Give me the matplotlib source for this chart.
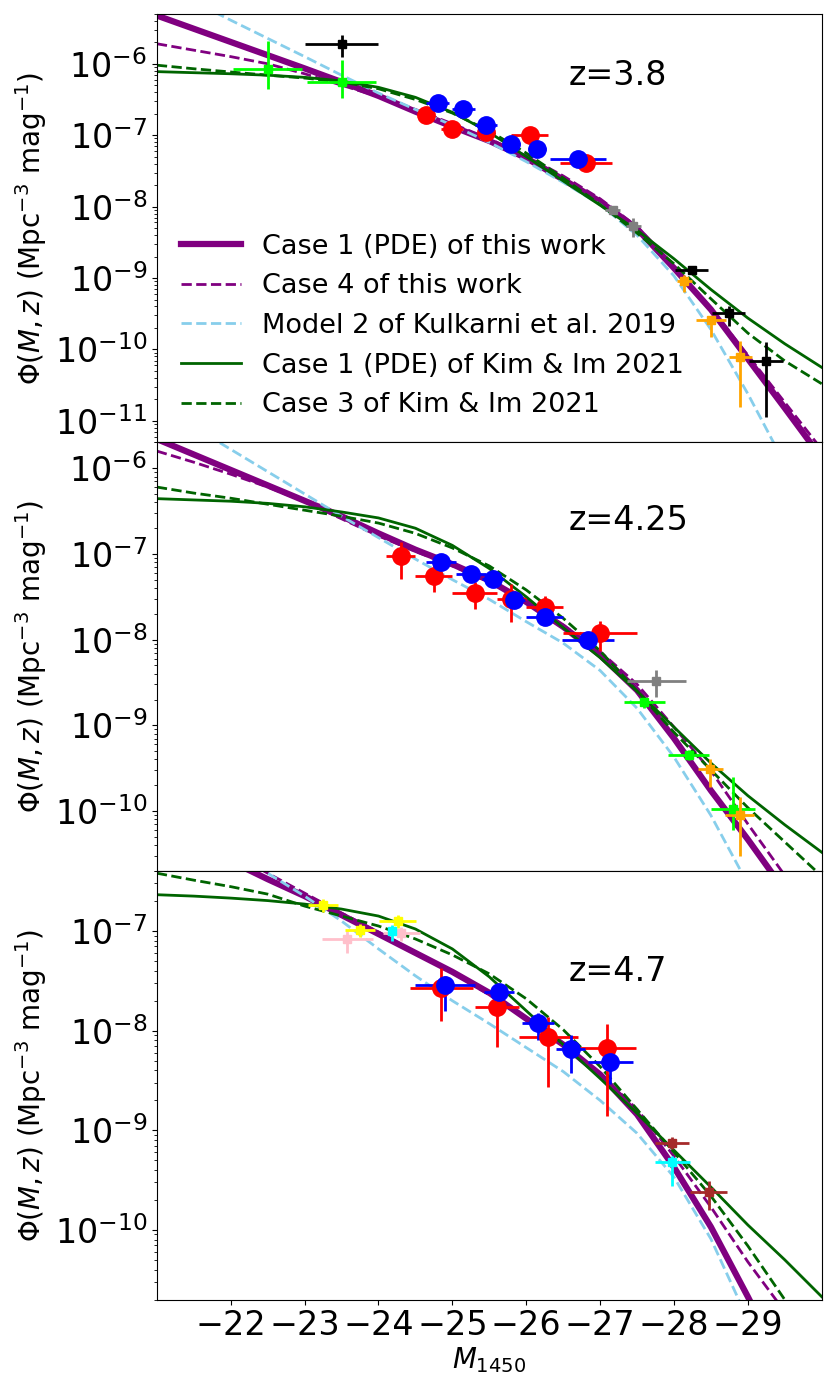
import matplotlib
matplotlib.use("Agg")
import matplotlib.pyplot as plt
import numpy as np

mag_grid = [-21.0, -21.5, -22.0, -22.5, -23.0, -23.5, -24.0, -24.5, -25.0, -25.5,
            -26.0, -26.5, -27.0, -27.5, -28.0, -28.5, -29.0, -29.5, -30.0]

# log10 Phi of each model, per redshift panel
z38_case1 = [-5.325, -5.51, -5.695, -5.88, -6.065, -6.255, -6.45, -6.67, -6.88, -7.08,
             -7.32, -7.62, -7.93, -8.31, -8.86, -9.44, -10.13, -10.82, -11.52]
z38_case4 = [-5.72, -5.81, -5.90, -6.00, -6.14, -6.30, -6.46, -6.64, -6.84, -7.05,
             -7.29, -7.57, -7.89, -8.28, -8.83, -9.42, -10.08, -10.74, -11.40]
z38_kulk = [-4.88, -5.13, -5.39, -5.645, -5.90, -6.16, -6.41, -6.64, -6.86, -7.10,
            -7.37, -7.66, -7.97, -8.40, -8.97, -9.72, -10.62, -11.6, -12.6]
z38_kim1 = [-6.11, -6.125, -6.14, -6.16, -6.19, -6.24, -6.33, -6.47, -6.68, -6.96,
            -7.30, -7.64, -7.98, -8.33, -8.73, -9.16, -9.56, -9.92, -10.25]
z38_kim3 = [-6.02, -6.07, -6.115, -6.16, -6.20, -6.255, -6.35, -6.50, -6.69, -6.94,
            -7.25, -7.60, -7.97, -8.37, -8.80, -9.29, -9.77, -10.16, -10.48]

z425_case1 = [-5.66, -5.84, -6.02, -6.20, -6.38, -6.56, -6.76, -6.95, -7.12, -7.31,
              -7.56, -7.85, -8.18, -8.59, -9.15, -9.76, -10.33, -10.93, -11.5]
z425_case4 = [-5.80, -5.93, -6.07, -6.22, -6.39, -6.59, -6.79, -6.97, -7.14, -7.33,
              -7.56, -7.83, -8.14, -8.52, -9.02, -9.53, -10.15, -10.75, -11.35]
z425_kulk = [-5.26, -5.52, -5.78, -6.04, -6.30, -6.56, -6.81, -7.06, -7.30, -7.53,
             -7.79, -8.04, -8.36, -8.80, -9.37, -10.05, -10.85, -11.8, -12.8]
z425_kim1 = [-6.355, -6.37, -6.385, -6.41, -6.45, -6.51, -6.58, -6.70, -6.90, -7.17,
             -7.50, -7.86, -8.21, -8.60, -9.02, -9.44, -9.82, -10.16, -10.48]
z425_kim3 = [-6.22, -6.29, -6.35, -6.42, -6.49, -6.56, -6.64, -6.76, -6.93, -7.14,
             -7.42, -7.75, -8.13, -8.60, -9.08, -9.52, -9.96, -10.36, -10.76]

z47_case1 = [-5.93, -6.11, -6.30, -6.48, -6.65, -6.84, -7.03, -7.22, -7.41, -7.62,
             -7.88, -8.14, -8.44, -8.84, -9.37, -9.97, -10.67, -11.4, -12.1]
z47_case4 = [-5.80, -6.01, -6.21, -6.42, -6.62, -6.82, -7.01, -7.21, -7.42, -7.64,
             -7.88, -8.15, -8.43, -8.79, -9.26, -9.77, -10.32, -10.82, -11.35]
z47_kulk = [-5.70, -5.94, -6.18, -6.42, -6.65, -6.90, -7.18, -7.45, -7.70, -7.93,
            -8.17, -8.41, -8.70, -9.03, -9.47, -10.09, -10.90, -11.8, -12.6]
z47_kim1 = [-6.636, -6.65, -6.67, -6.695, -6.73, -6.78, -6.85, -6.98, -7.18, -7.46,
            -7.80, -8.14, -8.48, -8.83, -9.20, -9.57, -9.95, -10.30, -10.67]
z47_kim3 = [-6.42, -6.49, -6.555, -6.63, -6.75, -6.85, -6.95, -7.08, -7.24, -7.43,
            -7.68, -7.99, -8.36, -8.79, -9.22, -9.66, -10.16, -10.70, -11.25]

# binned data points
z38_red_M = [-24.65, -25.0, -25.46, -26.05, -26.81]
z38_red_phi = [1.9e-7, 1.24e-7, 1.12e-7, 1.0e-7, 4.05e-8]
z38_red_xerr = [0.1, 0.15, 0.1, 0.25, 0.35]
z38_blue_M = [-24.80, -25.15, -25.46, -25.80, -26.15, -26.70]
z38_blue_phi = [2.78e-7, 2.31e-7, 1.38e-7, 7.5e-8, 6.4e-8, 4.6e-8]
z38_blue_xerr = [0.15, 0.15, 0.15, 0.12, 0.12, 0.38]
z38_lime_M = [-22.5, -23.5]
z38_lime_phi = [8.5e-7, 5.6e-7]
z38_lime_lo = [4.5e-7, 3.27e-7]
z38_lime_hi = [2.1e-6, 1.12e-6]
z38_black_M = [-23.5, -28.24, -28.74, -29.24]
z38_black_phi = [1.9e-6, 1.29e-9, 3.2e-10, 6.9e-11]
z38_black_xerr = [0.5, 0.22, 0.22, 0.23]
z38_black_lo = [1.24e-6, 1.15e-9, 2.1e-10, 1.12e-11]
z38_black_hi = [2.5e-6, 1.45e-9, 4.1e-10, 1.26e-10]
z38_orange_M = [-28.14, -28.50, -28.90]
z38_orange_phi = [9.0e-10, 2.6e-10, 7.9e-11]
z38_orange_xerr = [0.1, 0.2, 0.15]
z38_orange_lo = [6.3e-10, 1.5e-10, 1.55e-11]
z38_orange_hi = [1.1e-9, 2.95e-10, 1.32e-10]
z38_gray_M = [-27.17, -27.45]
z38_gray_phi = [9.0e-9, 5.4e-9]
z38_gray_lo = [8.0e-9, 3.8e-9]
z38_gray_hi = [1.0e-8, 6.9e-9]

z425_red_M = [-24.30, -24.75, -25.30, -25.80, -26.25, -27.0]
z425_red_phi = [9.5e-8, 5.6e-8, 3.5e-8, 3.0e-8, 2.4e-8, 1.18e-8]
z425_red_xerr = [0.2, 0.25, 0.3, 0.2, 0.25, 0.5]
z425_red_lo = [5.1e-8, 3.6e-8, 2.3e-8, 1.6e-8, 1.78e-8, 7.4e-9]
z425_red_hi = [1.39e-7, 7.6e-8, 4.7e-8, 4.4e-8, 3.2e-8, 1.66e-8]
z425_blue_M = [-24.85, -25.25, -25.55, -25.84, -26.25, -26.84]
z425_blue_phi = [8.1e-8, 5.9e-8, 5.1e-8, 2.9e-8, 1.86e-8, 9.8e-9]
z425_blue_xerr = [0.2, 0.2, 0.15, 0.15, 0.25, 0.35]
z425_gray_M = [-27.76]
z425_gray_phi = [3.3e-9]
z425_gray_lo = [2.14e-9]
z425_gray_hi = [4.4e-9]
z425_lime_M = [-27.6, -28.2, -28.8]
z425_lime_phi = [1.87e-9, 4.5e-10, 1.07e-10]
z425_lime_xerr = [0.28, 0.28, 0.3]
z425_lime_lo = [1.6e-9, 3.9e-10, 6.0e-11]
z425_lime_hi = [2.1e-9, 5.1e-10, 2.5e-10]
z425_orange_M = [-28.49, -28.89]
z425_orange_phi = [3.1e-10, 8.9e-11]
z425_orange_xerr = [0.17, 0.2]
z425_orange_lo = [1.9e-10, 3.0e-11]
z425_orange_hi = [4.1e-10, 1.45e-10]

z47_yellow_M = [-23.25, -23.75, -24.26]
z47_yellow_phi = [1.81e-7, 1.03e-7, 1.26e-7]
z47_yellow_xerr = [0.2, 0.2, 0.25]
z47_cyan_M = [-24.18, -27.98]
z47_cyan_phi = [9.9e-8, 4.8e-10]
z47_cyan_xerr = [0.05, 0.24]
z47_cyan_lo = [8.0e-8, 2.75e-10]
z47_cyan_hi = [1.15e-7, 5.5e-10]
z47_pink_M = [-23.58, -24.31]
z47_pink_phi = [8.4e-8, 9.6e-8]
z47_pink_xerr = [0.35, 0.25]
z47_pink_lo = [6.0e-8, 8.0e-8]
z47_pink_hi = [1.0e-7, 1.1e-7]
z47_red_M = [-24.85, -25.6, -26.3, -27.1]
z47_red_phi = [2.7e-8, 1.74e-8, 8.7e-9, 6.7e-9]
z47_red_xerr = [0.43, 0.3, 0.4, 0.38]
z47_red_lo = [1.24e-8, 6.9e-9, 2.75e-9, 1.38e-9]
z47_red_hi = [4.27e-8, 2.57e-8, 1.38e-8, 1.17e-8]
z47_blue_M = [-24.9, -25.63, -26.16, -26.6, -27.14]
z47_blue_phi = [2.9e-8, 2.45e-8, 1.19e-8, 6.5e-9, 4.9e-9]
z47_blue_xerr = [0.4, 0.2, 0.22, 0.2, 0.3]
z47_blue_lo = [1.58e-8, 1.95e-8, 8.1e-9, 3.8e-9, 2.9e-9]
z47_blue_hi = [3.5e-8, 2.95e-8, 1.5e-8, 9.1e-9, 7.2e-9]
z47_brown_M = [-27.98, -28.47]
z47_brown_phi = [7.4e-10, 2.4e-10]
z47_brown_xerr = [0.23, 0.25]
z47_brown_lo = [6.5e-10, 1.58e-10]
z47_brown_hi = [8.5e-10, 3.1e-10]

model_labels = ["Case 1 (PDE) of this work", "Case 4 of this work",
                "Model 2 of Kulkarni et al. 2019", "Case 1 (PDE) of Kim & Im 2021",
                "Case 3 of Kim & Im 2021"]
redshift_labels = ["z=3.8", "z=4.25", "z=4.7"]
panel_ylims = [(5e-12, 5e-6), (2e-11, 2e-6), (2e-11, 4e-7)]
label_ypos = [0.856, 0.818, 0.765]


def yerr_of(phi, lo, hi):
    phi = np.array(phi)
    return [phi - np.array(lo), np.array(hi) - phi]


def frac_err(phi, f):
    phi = np.array(phi)
    return [phi * f, phi * f]


def plot_models(ax, curves):
    mags = np.array(mag_grid)
    styles = [dict(color='purple', lw=4.5, ls='-'),
              dict(color='purple', lw=2, ls='--'),
              dict(color='skyblue', lw=2, ls='--'),
              dict(color='darkgreen', lw=2, ls='-'),
              dict(color='darkgreen', lw=2, ls='--')]
    for vals, st, lab in zip(curves, styles, model_labels):
        ax.plot(mags, 10 ** np.array(vals), label=lab, **st)


def points(ax, M, phi, xerr, yerr, color, fmt='s', ms=6):
    ax.errorbar(M, phi, xerr=xerr, yerr=yerr, fmt=fmt, color=color, ms=ms,
                elinewidth=2, capsize=0, zorder=5)


plt.rcParams.update({'font.size': 24})

fig = plt.figure(figsize=(8.3, 13.84), dpi=100)
axes = fig.subplots(3, 1, sharex=True)
fig.subplots_adjust(left=0.189, right=0.990, top=0.990, bottom=0.061, hspace=0)

ax1, ax2, ax3 = axes

# z = 3.8
plot_models(ax1, [z38_case1, z38_case4, z38_kulk, z38_kim1, z38_kim3])
points(ax1, z38_lime_M, z38_lime_phi, 0.47, yerr_of(z38_lime_phi, z38_lime_lo, z38_lime_hi), 'lime')
points(ax1, z38_black_M, z38_black_phi, z38_black_xerr,
       yerr_of(z38_black_phi, z38_black_lo, z38_black_hi), 'black')
points(ax1, z38_orange_M, z38_orange_phi, z38_orange_xerr,
       yerr_of(z38_orange_phi, z38_orange_lo, z38_orange_hi), 'orange')
points(ax1, z38_gray_M, z38_gray_phi, 0.1, yerr_of(z38_gray_phi, z38_gray_lo, z38_gray_hi), 'gray')
points(ax1, z38_red_M, z38_red_phi, z38_red_xerr, frac_err(z38_red_phi, 0.2), 'red', 'o', 12.5)
points(ax1, z38_blue_M, z38_blue_phi, z38_blue_xerr, frac_err(z38_blue_phi, 0.12), 'blue', 'o', 12.5)
ax1.legend(loc='lower left', frameon=False, fontsize=19.5, handlelength=2.2)

# z = 4.25
plot_models(ax2, [z425_case1, z425_case4, z425_kulk, z425_kim1, z425_kim3])
points(ax2, z425_gray_M, z425_gray_phi, 0.4, yerr_of(z425_gray_phi, z425_gray_lo, z425_gray_hi), 'gray')
points(ax2, z425_lime_M, z425_lime_phi, z425_lime_xerr,
       yerr_of(z425_lime_phi, z425_lime_lo, z425_lime_hi), 'lime')
points(ax2, z425_orange_M, z425_orange_phi, z425_orange_xerr,
       yerr_of(z425_orange_phi, z425_orange_lo, z425_orange_hi), 'orange')
points(ax2, z425_red_M, z425_red_phi, z425_red_xerr,
       yerr_of(z425_red_phi, z425_red_lo, z425_red_hi), 'red', 'o', 12.5)
points(ax2, z425_blue_M, z425_blue_phi, z425_blue_xerr, frac_err(z425_blue_phi, 0.2), 'blue', 'o', 12.5)

# z = 4.7
plot_models(ax3, [z47_case1, z47_case4, z47_kulk, z47_kim1, z47_kim3])
points(ax3, z47_pink_M, z47_pink_phi, z47_pink_xerr, yerr_of(z47_pink_phi, z47_pink_lo, z47_pink_hi), 'pink')
points(ax3, z47_yellow_M, z47_yellow_phi, z47_yellow_xerr, frac_err(z47_yellow_phi, 0.15), 'yellow')
points(ax3, z47_cyan_M, z47_cyan_phi, z47_cyan_xerr, yerr_of(z47_cyan_phi, z47_cyan_lo, z47_cyan_hi), 'cyan')
points(ax3, z47_brown_M, z47_brown_phi, z47_brown_xerr,
       yerr_of(z47_brown_phi, z47_brown_lo, z47_brown_hi), 'brown')
points(ax3, z47_red_M, z47_red_phi, z47_red_xerr,
       yerr_of(z47_red_phi, z47_red_lo, z47_red_hi), 'red', 'o', 12.5)
points(ax3, z47_blue_M, z47_blue_phi, z47_blue_xerr,
       yerr_of(z47_blue_phi, z47_blue_lo, z47_blue_hi), 'blue', 'o', 12.5)

for ax, lim, lab, ypos in zip(axes, panel_ylims, redshift_labels, label_ypos):
    ax.set_yscale('log')
    ax.set_ylim(*lim)
    ax.set_xlim(-21, -30)
    ax.set_ylabel(r'$\Phi(M,z)$ (Mpc$^{-3}$ mag$^{-1}$)', fontsize=20)
    ax.text(0.62, ypos, lab, transform=ax.transAxes, ha='left', va='center', fontsize=24)

ax3.set_xticks([-22, -23, -24, -25, -26, -27, -28, -29])
ax3.set_xlabel(r'$M_{1450}$', fontsize=20, labelpad=2)

fig.savefig("out.png", dpi=100)
